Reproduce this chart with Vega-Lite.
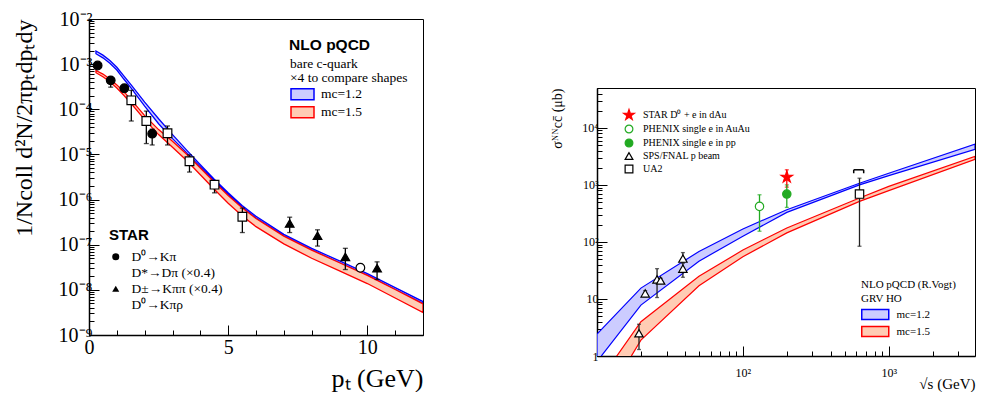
{
  "$schema": "https://vega.github.io/schema/vega-lite/v6.json",
  "background": "white",
  "padding": {"left": 11, "top": 8, "right": 0, "bottom": 0},
  "spacing": 126,
  "config": {
    "font": "Liberation Serif",
    "view": {"stroke": "black", "strokeWidth": 1},
    "axis": {"grid": false, "domainColor": "black", "tickColor": "black", "labelColor": "black", "titleColor": "black", "labelFont": "Liberation Serif", "titleFont": "Liberation Serif", "titleFontWeight": "normal", "labelFlush": false, "domainWidth": 1.5, "tickWidth": 1}
  },
  "hconcat": [
    {
      "width": 334,
      "height": 316,
      "layer": [
        {
          "data": {"values": [
            {"pt":0.25,"model":"mc=1.2","hi":1.95e-3,"lo":1.70e-3},
            {"pt":0.5,"model":"mc=1.2","hi":1.585e-3,"lo":1.38e-3},
            {"pt":0.75,"model":"mc=1.2","hi":1.202e-3,"lo":1.047e-3},
            {"pt":1.0,"model":"mc=1.2","hi":8.51e-4,"lo":7.41e-4},
            {"pt":1.25,"model":"mc=1.2","hi":5.50e-4,"lo":4.68e-4},
            {"pt":1.5,"model":"mc=1.2","hi":3.55e-4,"lo":3.02e-4},
            {"pt":2.0,"model":"mc=1.2","hi":1.445e-4,"lo":1.175e-4},
            {"pt":2.5,"model":"mc=1.2","hi":6.17e-5,"lo":4.79e-5},
            {"pt":3.0,"model":"mc=1.2","hi":2.75e-5,"lo":2.24e-5},
            {"pt":3.5,"model":"mc=1.2","hi":1.26e-5,"lo":1.096e-5},
            {"pt":4.0,"model":"mc=1.2","hi":5.89e-6,"lo":5.25e-6},
            {"pt":4.5,"model":"mc=1.2","hi":2.82e-6,"lo":2.57e-6},
            {"pt":5.0,"model":"mc=1.2","hi":1.41e-6,"lo":1.29e-6},
            {"pt":5.5,"model":"mc=1.2","hi":7.41e-7,"lo":6.76e-7},
            {"pt":6.0,"model":"mc=1.2","hi":4.27e-7,"lo":3.89e-7},
            {"pt":7.0,"model":"mc=1.2","hi":1.70e-7,"lo":1.55e-7},
            {"pt":8.0,"model":"mc=1.2","hi":8.32e-8,"lo":7.59e-8},
            {"pt":9.0,"model":"mc=1.2","hi":4.37e-8,"lo":3.98e-8},
            {"pt":10.0,"model":"mc=1.2","hi":2.29e-8,"lo":2.09e-8},
            {"pt":11.0,"model":"mc=1.2","hi":1.12e-8,"lo":1.02e-8},
            {"pt":12.0,"model":"mc=1.2","hi":5.50e-9,"lo":5.01e-9},
            {"pt":0.25,"model":"mc=1.5","hi":7.24e-4,"lo":6.46e-4},
            {"pt":0.5,"model":"mc=1.5","hi":6.03e-4,"lo":5.25e-4},
            {"pt":0.75,"model":"mc=1.5","hi":4.68e-4,"lo":4.07e-4},
            {"pt":1.0,"model":"mc=1.5","hi":3.47e-4,"lo":2.95e-4},
            {"pt":1.25,"model":"mc=1.5","hi":2.455e-4,"lo":2.04e-4},
            {"pt":1.5,"model":"mc=1.5","hi":1.66e-4,"lo":1.38e-4},
            {"pt":2.0,"model":"mc=1.5","hi":7.24e-5,"lo":5.89e-5},
            {"pt":2.5,"model":"mc=1.5","hi":3.55e-5,"lo":2.75e-5},
            {"pt":3.0,"model":"mc=1.5","hi":1.95e-5,"lo":1.445e-5},
            {"pt":3.5,"model":"mc=1.5","hi":1.023e-5,"lo":7.41e-6},
            {"pt":4.0,"model":"mc=1.5","hi":5.01e-6,"lo":3.55e-6},
            {"pt":4.5,"model":"mc=1.5","hi":2.455e-6,"lo":1.70e-6},
            {"pt":5.0,"model":"mc=1.5","hi":1.23e-6,"lo":8.32e-7},
            {"pt":5.5,"model":"mc=1.5","hi":6.61e-7,"lo":4.37e-7},
            {"pt":6.0,"model":"mc=1.5","hi":3.80e-7,"lo":2.51e-7},
            {"pt":7.0,"model":"mc=1.5","hi":1.55e-7,"lo":1.047e-7},
            {"pt":8.0,"model":"mc=1.5","hi":7.59e-8,"lo":5.01e-8},
            {"pt":9.0,"model":"mc=1.5","hi":3.98e-8,"lo":2.63e-8},
            {"pt":10.0,"model":"mc=1.5","hi":2.09e-8,"lo":1.38e-8},
            {"pt":11.0,"model":"mc=1.5","hi":1.02e-8,"lo":6.61e-9},
            {"pt":12.0,"model":"mc=1.5","hi":4.90e-9,"lo":3.16e-9}
          ]},
          "mark": {"type": "area", "clip": true, "strokeWidth": 1.3},
          "encoding": {
            "x": {"field": "pt", "type": "quantitative", "title": "pₜ (GeV)",
              "scale": {"domain": [0, 12], "nice": false, "zero": false},
              "axis": {"title": "pₜ (GeV)", "titleFontSize": 26, "titleAnchor": "end", "titlePadding": 8,
                "values": [0, 5, 10],
                "labelFlush": false,
                "labelFontSize": 20, "labelPadding": 12,
                "tickSize": -10}},
            "y": {"field": "hi", "type": "quantitative", "title": "1/Ncoll d²N/2πpₜdpₜdy",
              "scale": {"type": "log", "domain": [1e-9, 0.01], "nice": false},
              "axis": {"title": "1/Ncoll d²N/2πpₜdpₜdy", "titleFontSize": 24, "titleAnchor": "end", "titlePadding": 22,
                "values": [1e-9,2e-9,3e-9,4e-9,5e-9,6e-9,7e-9,8e-9,9e-9,1e-8,2e-8,3e-8,4e-8,5e-8,6e-8,7e-8,8e-8,9e-8,1e-7,2e-7,3e-7,4e-7,5e-7,6e-7,7e-7,8e-7,9e-7,1e-6,2e-6,3e-6,4e-6,5e-6,6e-6,7e-6,8e-6,9e-6,1e-5,2e-5,3e-5,4e-5,5e-5,6e-5,7e-5,8e-5,9e-5,1e-4,2e-4,3e-4,4e-4,5e-4,6e-4,7e-4,8e-4,9e-4,1e-3,2e-3,3e-3,4e-3,5e-3,6e-3,7e-3,8e-3,9e-3,1e-2],
                "labelExpr": "abs(log(datum.value)/LN10 - round(log(datum.value)/LN10)) > 0.01 ? '' : '10⁻' + ['⁰','¹','²','³','⁴','⁵','⁶','⁷','⁸','⁹'][-round(log(datum.value)/LN10)]",
                "labelOverlap": "greedy", "labelSeparation": 0,
                "labelFontSize": 20, "labelPadding": 7,
                "tickSize": {"condition": {"test": "abs(log(datum.value)/LN10 - round(log(datum.value)/LN10)) < 0.01", "value": -10}, "value": -5}}},
            "y2": {"field": "lo"},
            "fill": {"field": "model", "type": "nominal",
              "scale": {"domain": ["mc=1.2", "mc=1.5"], "range": ["#ccccff", "#ffccb4"]},
              "legend": {"title": ["bare c-quark", "×4 to compare shapes"], "orient": "none", "legendX": 201, "legendY": 38,
                "titleFont": "Liberation Serif", "titleFontSize": 13.5, "titleFontWeight": "normal", "titleLineHeight": 14, "titlePadding": 3,
                "labelFont": "Liberation Serif", "labelFontSize": 13.5, "symbolType": "M-1,-0.957H3V0.957H-1Z", "symbolSize": 132.25,
                "symbolStrokeWidth": 1.5, "rowPadding": 0, "labelOffset": 17.5, "padding": 0}},
            "stroke": {"field": "model", "type": "nominal",
              "scale": {"domain": ["mc=1.2", "mc=1.5"], "range": ["#0000ff", "#ff0000"]}}
          }
        },
        {
          "data": {"name": "leftpts"},
          "mark": {"type": "errorbar", "ticks": {"size": 5}, "thickness": 1.3, "color": "black"},
          "encoding": {
            "x": {"field": "pt", "type": "quantitative", "axis": null},
            "y": {"field": "lo", "type": "quantitative", "title": "1/Ncoll d²N/2πpₜdpₜdy"},
            "y2": {"field": "hi"}
          }
        },
        {
          "data": {"name": "leftpts"},
          "mark": {"type": "point", "filled": true, "stroke": "black", "strokeWidth": 1.2, "opacity": 1, "size": 75},
          "encoding": {
            "x": {"field": "pt", "type": "quantitative", "axis": null},
            "y": {"field": "y", "type": "quantitative", "title": "1/Ncoll d²N/2πpₜdpₜdy"},
            "shape": {"field": "decay", "type": "nominal",
              "scale": {"domain": ["D⁰→Kπ", "D*→Dπ (×0.4)", "D±→Kππ (×0.4)", "D⁰→Kπρ"], "range": ["circle", "square", "triangle-up", "circle"]},
              "legend": {"title": "STAR", "orient": "none", "legendX": 20, "legendY": 209,
                "titleFont": "Liberation Sans", "titleFontWeight": "bold", "titleFontSize": 15, "titlePadding": 7,
                "labelFont": "Liberation Serif", "labelFontSize": 13.5, "symbolSize": 50, "symbolStrokeColor": "black", "symbolStrokeWidth": 1.2,
                "rowPadding": 1, "labelOffset": 9, "padding": 0}},
            "fill": {"field": "decay", "type": "nominal",
              "scale": {"domain": ["D⁰→Kπ", "D*→Dπ (×0.4)", "D±→Kππ (×0.4)", "D⁰→Kπρ"], "range": ["black", "white", "black", "white"]}}
          }
        },
        {
          "data": {"values": [{"pt": 7.19, "y": 0.00265, "t": "NLO pQCD"}]},
          "mark": {"type": "text", "align": "left", "baseline": "middle", "font": "Liberation Sans", "fontWeight": "bold", "fontSize": 15.5, "color": "black"},
          "encoding": {
            "x": {"field": "pt", "type": "quantitative",
              "axis": {"orient": "bottom", "title": null, "values": [1,2,3,4,6,7,8,9,11,12], "labels": false, "domain": false, "tickSize": -5}},
            "y": {"field": "y", "type": "quantitative", "title": "1/Ncoll d²N/2πpₜdpₜdy"},
            "text": {"field": "t"}
          }
        }
      ],
      "resolve": {"scale": {"fill": "independent", "stroke": "independent", "shape": "independent"}, "axis": {"x": "independent"}}
    },
    {
      "spacing": 0,
      "vconcat": [
        {
          "width": 378,
          "height": 68,
          "view": {"stroke": null},
          "data": {"values": [{"a": 1}]},
          "mark": {"type": "point", "opacity": 0},
          "encoding": {}
        },
        {
          "width": 378,
          "height": 268,
          "layer": [
            {
              "data": {"values": [
                {"s":10,"model":"mc=1.2","hi":2.42,"lo":0.8},
                {"s":20,"model":"mc=1.2","hi":15.5,"lo":7.8},
                {"s":50,"model":"mc=1.2","hi":68,"lo":46},
                {"s":100,"model":"mc=1.2","hi":169,"lo":126},
                {"s":200,"model":"mc=1.2","hi":367,"lo":330},
                {"s":630,"model":"mc=1.2","hi":1070,"lo":1000},
                {"s":1000,"model":"mc=1.2","hi":1600,"lo":1450},
                {"s":3900,"model":"mc=1.2","hi":5200,"lo":4200},
                {"s":10,"model":"mc=1.5","hi":0.32,"lo":0.1},
                {"s":20,"model":"mc=1.5","hi":4.0,"lo":1.9},
                {"s":50,"model":"mc=1.5","hi":25,"lo":17},
                {"s":100,"model":"mc=1.5","hi":72,"lo":55},
                {"s":200,"model":"mc=1.5","hi":176,"lo":144},
                {"s":630,"model":"mc=1.5","hi":590,"lo":515},
                {"s":1000,"model":"mc=1.5","hi":940,"lo":795},
                {"s":3900,"model":"mc=1.5","hi":3150,"lo":2800}
              ]},
              "mark": {"type": "area", "clip": true, "strokeWidth": 1.2},
              "encoding": {
                "x": {"field": "s", "type": "quantitative", "title": "√s (GeV)",
                  "scale": {"type": "log", "domain": [10, 3900], "nice": false},
                  "axis": {"title": "√s (GeV)", "titleFontSize": 15, "titleAnchor": "end", "titlePadding": -2,
                    "values": [20,30,40,50,60,70,80,90,100,200,300,400,500,600,700,800,900,1000,2000,3000],
                    "labelExpr": "datum.value == 100 ? '10²' : (datum.value == 1000 ? '10³' : '')",
                    "labelOverlap": "greedy", "labelSeparation": 0, "labelFlush": false,
                    "labelFontSize": 12, "labelPadding": 21,
                    "tickSize": {"condition": {"test": "datum.value == 100 || datum.value == 1000", "value": -10}, "value": -5}}},
                "y": {"field": "hi", "type": "quantitative", "title": "σᴺᴺcc̄ (μb)",
                  "scale": {"type": "log", "domain": [1, 50000], "nice": false},
                  "axis": {"title": "σᴺᴺcc̄ (μb)", "titleFontSize": 14, "titleAnchor": "end", "titlePadding": 17,
                    "values": [1,2,3,4,5,6,7,8,9,10,20,30,40,50,60,70,80,90,100,200,300,400,500,600,700,800,900,1000,2000,3000,4000,5000,6000,7000,8000,9000,10000,20000,30000,40000,50000],
                    "labelExpr": "abs(log(datum.value)/LN10 - round(log(datum.value)/LN10)) > 0.01 ? '' : (datum.value < 1.5 ? '1' : (datum.value < 15 ? '10' : '10' + ['⁰','¹','²','³','⁴','⁵'][round(log(datum.value)/LN10)]))",
                    "labelOverlap": "greedy", "labelSeparation": 0,
                    "labelFontSize": 12, "labelPadding": 9,
                    "tickSize": {"condition": {"test": "abs(log(datum.value)/LN10 - round(log(datum.value)/LN10)) < 0.01", "value": -10}, "value": -5}}},
                "y2": {"field": "lo"},
                "fill": {"field": "model", "type": "nominal",
                  "scale": {"domain": ["mc=1.2", "mc=1.5"], "range": ["#ccccff", "#ffccb4"]},
                  "legend": {"title": ["NLO pQCD (R.Vogt)", "GRV HO"], "orient": "none", "legendX": 264, "legendY": 191,
                    "titleFont": "Liberation Serif", "titleFontSize": 11, "titleFontWeight": "normal", "titleLineHeight": 14, "titlePadding": 3,
                    "labelFont": "Liberation Serif", "labelFontSize": 11, "symbolType": "M-1,-0.74H3V0.74H-1Z", "symbolSize": 182.25,
                    "symbolStrokeWidth": 1.5, "rowPadding": 0, "labelOffset": 20.5, "padding": 0}},
                "stroke": {"field": "model", "type": "nominal",
                  "scale": {"domain": ["mc=1.2", "mc=1.5"], "range": ["#0000ff", "#ff0000"]}}
              }
            },
            {
              "data": {"values": [
                {"s": 575, "s2": 673, "v": 1840, "v2": 1840},
                {"s": 575, "s2": 575, "v": 1600, "v2": 1840},
                {"s": 673, "s2": 673, "v": 1600, "v2": 1840}
              ]},
              "mark": {"type": "rule", "color": "black", "strokeWidth": 1.5},
              "encoding": {
                "x": {"field": "s", "type": "quantitative", "title": "√s (GeV)"},
                "x2": {"field": "s2"},
                "y": {"field": "v", "type": "quantitative", "title": "σᴺᴺcc̄ (μb)"},
                "y2": {"field": "v2"}
              }
            },
            {
              "data": {"name": "rightpts"},
              "mark": {"type": "errorbar", "ticks": {"size": 4}, "thickness": 1.3},
              "encoding": {
                "x": {"field": "s", "type": "quantitative", "title": "√s (GeV)"},
                "y": {"field": "lo", "type": "quantitative", "title": "σᴺᴺcc̄ (μb)"},
                "y2": {"field": "hi"},
                "color": {"field": "exp", "type": "nominal", "legend": null,
                  "scale": {"domain": ["STAR D⁰ + e in dAu", "PHENIX single e in AuAu", "PHENIX single e in pp", "SPS/FNAL p beam", "UA2"], "range": ["#ff0000", "#22aa22", "#22aa22", "#222222", "#222222"]}}
              }
            },
            {
              "data": {"name": "rightpts"},
              "mark": {"type": "point", "filled": true, "strokeWidth": 1.2, "opacity": 1, "size": 70},
              "encoding": {
                "x": {"field": "s", "type": "quantitative", "title": "√s (GeV)"},
                "y": {"field": "y", "type": "quantitative", "title": "σᴺᴺcc̄ (μb)"},
                "shape": {"field": "exp", "type": "nominal",
                  "scale": {"domain": ["STAR D⁰ + e in dAu", "PHENIX single e in AuAu", "PHENIX single e in pp", "SPS/FNAL p beam", "UA2"],
                    "range": ["M0,-1.45L0.326,-0.448L1.379,-0.448L0.526,0.171L0.853,1.173L0,0.554L-0.853,1.173L-0.526,0.171L-1.379,-0.448L-0.326,-0.448Z", "circle", "circle", "triangle-up", "square"]},
                  "legend": {"title": null, "orient": "none", "legendX": 27, "legendY": 22,
                    "labelFont": "Liberation Serif", "labelFontSize": 10, "symbolStrokeWidth": 1.2, "symbolSize": 60,
                    "rowPadding": 0, "labelOffset": 9, "padding": 0}},
                "fill": {"field": "exp", "type": "nominal",
                  "scale": {"domain": ["STAR D⁰ + e in dAu", "PHENIX single e in AuAu", "PHENIX single e in pp", "SPS/FNAL p beam", "UA2"], "range": ["#ff0000", "white", "#22aa22", "white", "white"]}},
                "stroke": {"field": "exp", "type": "nominal",
                  "scale": {"domain": ["STAR D⁰ + e in dAu", "PHENIX single e in AuAu", "PHENIX single e in pp", "SPS/FNAL p beam", "UA2"], "range": ["#ff0000", "#22aa22", "#22aa22", "black", "black"]}}
              }
            }
          ],
          "resolve": {"scale": {"fill": "independent", "stroke": "independent", "shape": "independent", "color": "independent"}}
        }
      ]
    }
  ],
  "datasets": {
    "leftpts": [
      {"pt":0.31,"y":9.33e-4,"lo":8.32e-4,"hi":1.047e-3,"decay":"D⁰→Kπ"},
      {"pt":0.78,"y":4.37e-4,"lo":3.09e-4,"hi":5.01e-4,"decay":"D⁰→Kπ"},
      {"pt":1.27,"y":2.92e-4,"lo":2.40e-4,"hi":3.47e-4,"decay":"D⁰→Kπ"},
      {"pt":2.27,"y":2.88e-5,"lo":1.62e-5,"hi":3.63e-5,"decay":"D⁰→Kπ"},
      {"pt":1.52,"y":1.58e-4,"lo":5.50e-5,"hi":2.63e-4,"decay":"D*→Dπ (×0.4)"},
      {"pt":2.06,"y":5.50e-5,"lo":1.74e-5,"hi":9.12e-5,"decay":"D*→Dπ (×0.4)"},
      {"pt":2.82,"y":2.95e-5,"lo":1.62e-5,"hi":4.27e-5,"decay":"D*→Dπ (×0.4)"},
      {"pt":3.61,"y":7.08e-6,"lo":4.07e-6,"hi":9.77e-6,"decay":"D*→Dπ (×0.4)"},
      {"pt":4.51,"y":2.14e-6,"lo":1.41e-6,"hi":2.57e-6,"decay":"D*→Dπ (×0.4)"},
      {"pt":5.51,"y":4.17e-7,"lo":1.86e-7,"hi":6.46e-7,"decay":"D*→Dπ (×0.4)"},
      {"pt":7.21,"y":2.95e-7,"lo":1.86e-7,"hi":4.07e-7,"decay":"D±→Kππ (×0.4)"},
      {"pt":8.21,"y":1.58e-7,"lo":9.33e-8,"hi":2.14e-7,"decay":"D±→Kππ (×0.4)"},
      {"pt":9.21,"y":5.37e-8,"lo":2.82e-8,"hi":8.32e-8,"decay":"D±→Kππ (×0.4)"},
      {"pt":10.35,"y":3.02e-8,"lo":1.70e-8,"hi":4.17e-8,"decay":"D±→Kππ (×0.4)"},
      {"pt":9.75,"y":3.09e-8,"lo":3.09e-8,"hi":3.09e-8,"decay":"D⁰→Kπρ"}
    ],
    "rightpts": [
      {"s":200,"y":1370,"lo":914,"hi":1840,"exp":"STAR D⁰ + e in dAu"},
      {"s":130,"y":420,"lo":154,"hi":671,"exp":"PHENIX single e in AuAu"},
      {"s":200,"y":690,"lo":403,"hi":1000,"exp":"PHENIX single e in pp"},
      {"s":19.4,"y":2.5,"lo":1.3,"hi":3.6,"exp":"SPS/FNAL p beam"},
      {"s":21.4,"y":12.5,"lo":11,"hi":14,"exp":"SPS/FNAL p beam"},
      {"s":25.8,"y":22,"lo":10.6,"hi":34,"exp":"SPS/FNAL p beam"},
      {"s":27.3,"y":21,"lo":19,"hi":23,"exp":"SPS/FNAL p beam"},
      {"s":38.8,"y":51,"lo":43,"hi":65,"exp":"SPS/FNAL p beam"},
      {"s":38.8,"y":34,"lo":24,"hi":43,"exp":"SPS/FNAL p beam"},
      {"s":630,"y":690,"lo":84,"hi":1310,"exp":"UA2"}
    ]
  }
}
